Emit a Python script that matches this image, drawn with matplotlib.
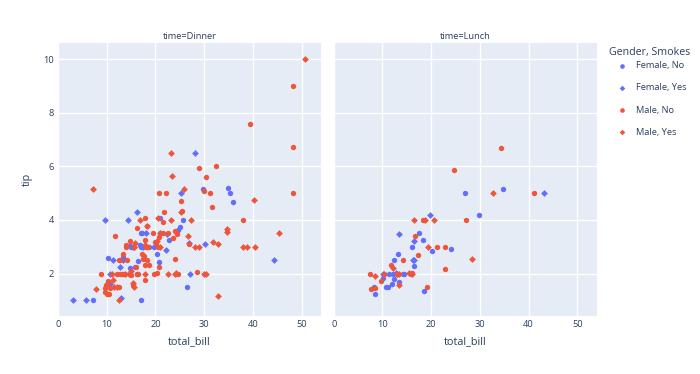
import matplotlib
matplotlib.use('Agg')
import matplotlib.pyplot as plt

plt.rcParams['font.family'] = ['Open Sans', 'DejaVu Sans']

# ---- data (total_bill, tip) per facet and group ----
dinner_female_no_x = [16.99, 24.59, 35.26, 14.83, 10.33, 16.97, 20.29, 15.77, 19.65, 15.06, 20.69, 16.93, 10.29, 34.81, 26.41, 16.45, 17.07, 14.73, 22.75, 20.92, 7.25, 25.71, 17.31, 29.85, 25.0, 13.39, 16.21, 35.83, 18.78]
dinner_female_no_y = [1.01, 3.61, 5.0, 3.02, 1.67, 3.5, 2.75, 2.23, 3.0, 3.0, 2.45, 3.07, 2.6, 5.2, 1.5, 2.47, 3.0, 2.2, 3.25, 4.08, 1.0, 4.0, 3.5, 5.14, 3.75, 2.61, 2.0, 4.67, 3.0]

dinner_female_yes_x = [3.07, 26.86, 25.28, 5.75, 16.32, 11.35, 15.38, 44.3, 22.42, 14.31, 17.51, 10.59, 10.63, 9.6, 20.9, 18.15, 12.76, 13.27, 28.17, 12.9, 30.14, 22.12, 27.18]
dinner_female_yes_y = [1.0, 3.14, 5.0, 1.0, 4.3, 2.5, 3.0, 2.5, 3.48, 4.0, 3.0, 1.61, 2.0, 4.0, 3.5, 3.5, 2.23, 2.5, 6.5, 1.1, 3.09, 2.88, 2.0]

dinner_male_no_x = [10.34, 21.01, 23.68, 25.29, 8.77, 26.88, 15.04, 14.78, 10.27, 15.42, 18.43, 21.58, 16.29, 20.65, 17.92, 39.42, 19.82, 17.81, 13.37, 12.69, 21.7, 9.55, 18.35, 17.78, 24.06, 16.31, 18.69, 31.27, 16.04, 17.46, 13.94, 9.68, 30.4, 18.29, 22.23, 32.4, 28.55, 18.04, 12.54, 9.94, 25.56, 19.49, 48.27, 17.59, 20.08, 20.23, 12.02, 10.51, 22.49, 12.46, 18.24, 14.0, 38.07, 23.95, 29.93, 14.07, 13.13, 17.26, 24.55, 19.77, 48.17, 16.49, 21.5, 12.66, 13.81, 24.52, 20.76, 31.71, 20.69, 48.33, 20.45, 13.28, 11.61, 10.77, 10.07, 29.03, 17.82]
dinner_male_no_y = [1.66, 3.5, 3.31, 4.71, 2.0, 3.12, 1.96, 3.23, 1.71, 1.57, 3.0, 3.92, 3.71, 3.35, 4.08, 7.58, 3.18, 2.34, 2.0, 2.0, 4.3, 1.45, 2.5, 3.27, 3.6, 2.0, 2.31, 5.0, 2.24, 2.54, 3.06, 1.32, 5.6, 3.0, 5.0, 6.0, 2.05, 3.0, 2.5, 1.56, 4.34, 3.51, 6.73, 2.64, 3.15, 2.01, 1.97, 1.25, 3.5, 1.5, 3.76, 3.0, 4.0, 2.55, 5.07, 2.5, 2.0, 2.74, 2.0, 2.0, 5.0, 2.0, 3.5, 2.5, 2.0, 3.48, 2.24, 4.5, 5.0, 9.0, 3.0, 2.72, 3.39, 1.47, 1.25, 5.92, 1.75]

dinner_male_yes_x = [38.01, 11.24, 20.29, 13.81, 11.02, 18.29, 15.01, 17.92, 28.97, 40.17, 27.28, 12.03, 21.01, 15.36, 20.49, 25.21, 50.81, 15.81, 7.25, 31.85, 16.82, 32.9, 17.89, 14.48, 34.63, 34.65, 23.33, 45.35, 23.17, 40.55, 30.46, 23.1, 15.69, 26.59, 38.73, 24.27, 30.06, 25.89, 28.15, 11.59, 7.74, 24.01, 15.69, 15.53, 12.6, 32.83, 22.67]
dinner_male_yes_y = [3.0, 1.76, 3.21, 2.0, 1.98, 3.76, 2.09, 3.08, 3.0, 4.73, 4.0, 1.5, 3.0, 1.64, 4.06, 4.29, 10.0, 3.16, 5.15, 3.18, 4.0, 3.11, 2.0, 2.0, 3.55, 3.68, 5.65, 3.5, 6.5, 3.0, 2.0, 4.0, 1.5, 3.41, 3.0, 2.03, 2.0, 5.16, 3.0, 1.5, 1.44, 2.0, 3.0, 3.0, 1.0, 1.17, 2.0]

lunch_female_no_x = [10.07, 34.83, 10.65, 12.43, 24.08, 13.42, 12.48, 29.8, 14.52, 11.38, 20.27, 11.17, 12.26, 18.26, 8.51, 10.33, 14.15, 13.16, 17.47, 27.05, 16.43, 8.35, 18.64, 11.87, 15.98]
lunch_female_no_y = [1.83, 5.17, 1.5, 1.8, 2.92, 1.68, 2.52, 4.2, 2.0, 2.0, 2.83, 1.5, 2.0, 3.25, 1.25, 2.0, 2.0, 2.75, 3.5, 5.0, 2.3, 1.5, 1.36, 1.63, 3.0]

lunch_female_yes_x = [19.81, 43.11, 13.0, 12.74, 13.0, 16.4, 16.47, 13.42, 16.27, 10.09]
lunch_female_yes_y = [4.19, 5.0, 2.0, 2.01, 2.0, 2.5, 3.23, 3.48, 2.5, 2.0]

lunch_male_no_x = [27.2, 22.76, 17.29, 16.66, 15.98, 13.03, 18.28, 24.71, 21.16, 11.69, 14.26, 15.95, 8.52, 22.82, 19.08, 34.3, 41.19, 9.78, 7.51, 7.56]
lunch_male_no_y = [4.0, 3.0, 2.71, 3.4, 2.03, 2.0, 4.0, 5.85, 3.0, 2.31, 2.5, 2.0, 1.48, 2.18, 1.5, 6.7, 5.0, 1.73, 2.0, 1.44]

lunch_male_yes_x = [19.44, 32.68, 16.0, 28.44, 15.48, 16.58, 10.34, 13.51, 18.71, 20.53, 12.16, 8.58, 13.42]
lunch_male_yes_y = [3.0, 5.0, 2.0, 2.56, 2.02, 4.0, 2.0, 2.0, 4.0, 4.0, 2.2, 1.92, 1.58]

group_labels = ['Female, No', 'Female, Yes', 'Male, No', 'Male, Yes']
facet_titles = ['time=Dinner', 'time=Lunch']
x_ticks = [0, 10, 20, 30, 40, 50]
y_ticks = [2, 4, 6, 8, 10]

facets = [
    [(dinner_female_no_x, dinner_female_no_y), (dinner_female_yes_x, dinner_female_yes_y),
     (dinner_male_no_x, dinner_male_no_y), (dinner_male_yes_x, dinner_male_yes_y)],
    [(lunch_female_no_x, lunch_female_no_y), (lunch_female_yes_x, lunch_female_yes_y),
     (lunch_male_no_x, lunch_male_no_y), (lunch_male_yes_x, lunch_male_yes_y)],
]

# ---- styles ----
BLUE = '#636efa'
RED = '#EF553B'
styles = [(BLUE, 'o', 15), (BLUE, 'D', 12), (RED, 'o', 15), (RED, 'D', 12)]
legend_sizes = [11, 8, 11, 8]
TXT = '#2a3f5f'
BG = '#E5ECF6'

W, H = 700, 374
fig = plt.figure(figsize=(W / 100, H / 100), dpi=100)
ax_top, ax_bot = 42.7, 316.0
ax_h = ax_bot - ax_top
lefts = [58.0, 333.7]
ax_w = 263.0

axes = []
for i, (left, title, groups) in enumerate(zip(lefts, facet_titles, facets)):
    ax = fig.add_axes([left / W, 1 - ax_bot / H, ax_w / W, ax_h / H])
    axes.append(ax)
    ax.set_facecolor(BG)
    ax.set_xlim(0, 54.0)
    ax.set_ylim(0.42, 10.61)
    ax.set_xticks(x_ticks)
    ax.set_yticks(y_ticks)
    ax.grid(color='white', lw=1.0)
    ax.set_axisbelow(True)
    for sp in ax.spines.values():
        sp.set_visible(False)
    ax.tick_params(length=0, labelsize=6.7, colors=TXT, pad=3)
    if i == 1:
        ax.tick_params(labelleft=False)
    for (xs, ys), (c, m, s) in zip(groups, styles):
        ax.scatter(xs, ys, c=c, marker=m, s=s, linewidths=0, zorder=3)
    ax.text(0.5, 1 + 6.2 / ax_h, title, transform=ax.transAxes, ha='center', va='center',
            fontsize=6.7, color=TXT)
    ax.set_xlabel('total_bill', fontsize=7.8, color=TXT)
    ax.xaxis.set_label_coords(0.5, -(341.5 - ax_bot) / ax_h)
    ax.xaxis.label.set_va('center')

axes[0].set_ylabel('tip', fontsize=7.8, color=TXT)
axes[0].yaxis.set_label_coords(-(58 - 27.5) / ax_w, 0.5)
axes[0].yaxis.label.set_va('center')

# ---- legend (pixel coordinates) ----
lax = fig.add_axes([0, 0, 1, 1])
lax.set_xlim(0, W)
lax.set_ylim(H, 0)
lax.axis('off')
lax.text(608.7, 52.3, 'Gender, Smokes', fontsize=7.7, color=TXT, ha='left', va='center')
item_y = [65.7, 87.7, 110.0, 132.0]
for yy, lab, (c, m, s), ls in zip(item_y, group_labels, styles, legend_sizes):
    lax.scatter([621.7], [yy], c=c, marker=m, s=ls, linewidths=0)
    lax.text(636, yy, lab, fontsize=6.7, color=TXT, ha='left', va='center')

fig.savefig('out.png', dpi=100)
